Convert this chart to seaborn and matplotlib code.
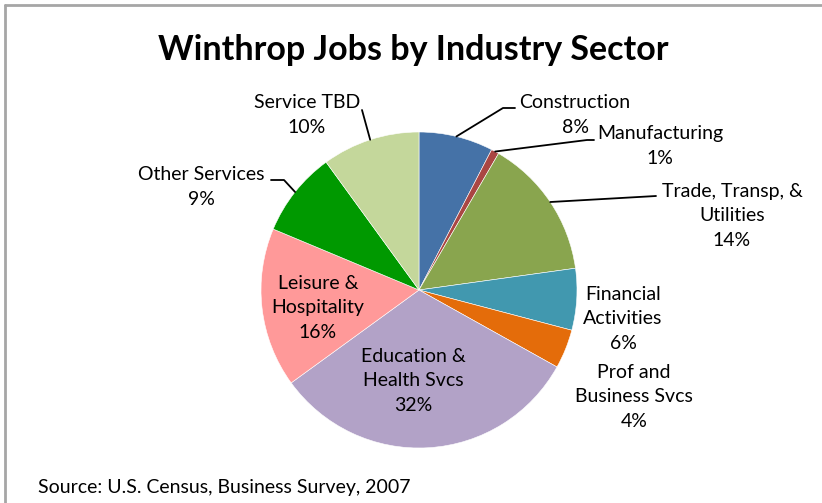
import numpy as np
import matplotlib.pyplot as plt
import seaborn as sns
from matplotlib.lines import Line2D

# Jobs share by sector (percent), clockwise from 12 o'clock
sectors = ['Construction', 'Manufacturing', 'Trade, Transp, &\nUtilities',
           'Financial\nActivities', 'Prof and\nBusiness Svcs', 'Education &\nHealth Svcs',
           'Leisure &\nHospitality', 'Other Services', 'Service TBD']
shares = [7.6, 0.8, 14.4, 6.3, 4.0, 31.9, 16.3, 8.7, 10.0]
colors = ['#4572A7', '#AA4643', '#89A54E', '#4198AF', '#E46C0A',
          '#B2A2C7', '#FF9999', '#009900', '#C4D79B']

sns.set_theme(style='white')
plt.rcParams['font.family'] = ['Lato', 'DejaVu Sans']
plt.rcParams['text.color'] = 'black'

W, H = 822, 503
fig = plt.figure(figsize=(W / 100, H / 100), dpi=100)
fig.patch.set_facecolor('white')


def frac(x, y):
    # pixel position (from top-left) -> figure fraction
    return x / W, 1 - y / H


# pie centre and radius in pixels
cx, cy, r = 419, 290, 158
ax = fig.add_axes([(cx - r) / W, (H - cy - r) / H, 2 * r / W, 2 * r / H])
wedges, _ = ax.pie(shares, colors=colors, startangle=90, counterclock=False,
                   wedgeprops=dict(edgecolor='white', linewidth=0.4))
ax.set_xlim(-1, 1)
ax.set_ylim(-1, 1)
ax.axis('off')

# where each label sits (pixels) and the bends of its leader line
label_pos = [(575, 115), (660, 146), (732, 216), (623, 319), (634, 397),
             (413, 381), (318, 308), (201, 187), (307, 115)]
leaders = {0: [(503, 108), (515, 108)],
           1: [(587, 140), (594, 140)],
           2: [(656, 196)],
           7: [(284, 180), (271, 180)],
           8: [(362, 110)]}

for i, (name, pct) in enumerate(zip(sectors, shares)):
    x, y = frac(*label_pos[i])
    fig.text(x, y, f'{name}\n{pct:.0f}%', ha='center', va='center',
             fontsize=14, linespacing=1.55, color='black')
    if i in leaders:
        w = wedges[i]
        mid = np.deg2rad((w.theta1 + w.theta2) / 2)
        pts = [(cx + r * np.cos(mid), cy - r * np.sin(mid))] + leaders[i]
        xs, ys = zip(*[frac(px, py) for px, py in pts])
        fig.add_artist(Line2D(xs, ys, transform=fig.transFigure, color='black', lw=1.3))

fig.text(*frac(413, 50), 'Winthrop Jobs by Industry Sector', ha='center', va='center',
         fontsize=24.5, fontweight='bold', color='black')
fig.text(*frac(38, 487), 'Source: U.S. Census, Business Survey, 2007', ha='left',
         va='center', fontsize=14, color='black')

# chart frame (only top and left edges are visible)
border = dict(transform=fig.transFigure, color='#A6A6A6', lw=2)
fig.add_artist(Line2D([5 / W, 1], [1 - 5 / H, 1 - 5 / H], **border))
fig.add_artist(Line2D([5 / W, 5 / W], [1 - 5 / H, 0], **border))

fig.savefig('out.png', dpi=100)
